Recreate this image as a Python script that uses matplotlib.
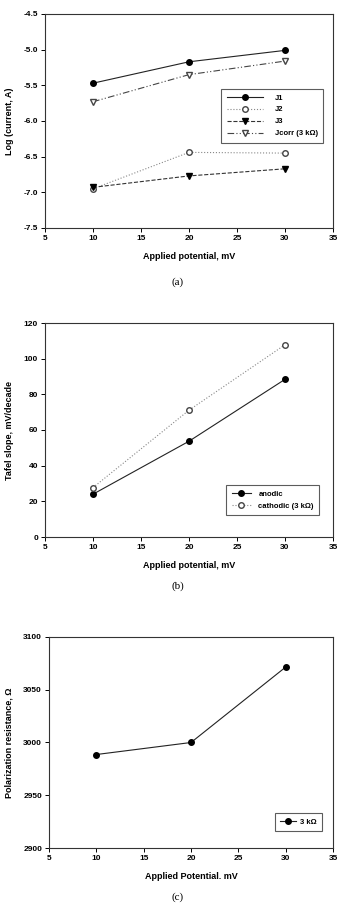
# Tres paneles: corriente, pendiente de Tafel y resistencia de polarizacion
import matplotlib
matplotlib.use("Agg")
import matplotlib.pyplot as plt
from matplotlib.ticker import FormatStrFormatter

plt.rcParams['font.family'] = ['Liberation Sans', 'DejaVu Sans']
plt.rcParams['font.weight'] = 'bold'

# Datos
potencial = [10, 20, 30]

j1 = [-5.47, -5.17, -5.01]
j2 = [-6.95, -6.44, -6.45]
j3 = [-6.93, -6.77, -6.67]
jcorr = [-5.73, -5.35, -5.16]

anodico = [24, 53.7, 88.4]
catodico = [27.7, 71.1, 107.8]

resistencia = [2988.6, 3000, 3071.5]

W, H = 340, 913
fig = plt.figure(figsize=(W / 100, H / 100), dpi=100)

def ejes(izq, der, arriba, abajo):
    return fig.add_axes([izq / W, 1 - abajo / H, (der - izq) / W, (abajo - arriba) / H])

def estilo(ax):
    for s in ax.spines.values():
        s.set_linewidth(0.8)
        s.set_color('#333333')
    ax.tick_params(direction='out', length=3, width=0.7, labelsize=6,
                   top=False, right=False, pad=2)
    ax.set_xlim(5, 35)
    ax.set_xticks(range(5, 36, 5))
    for t in ax.get_xticklabels() + ax.get_yticklabels():
        t.set_fontweight('bold')

def leyenda(ax, **kw):
    leg = ax.legend(fontsize=5.5, frameon=True, fancybox=False, numpoints=1,
                    borderpad=0.7, **kw)
    leg.get_frame().set_edgecolor('#333333')
    leg.get_frame().set_linewidth(0.8)
    for t in leg.get_texts():
        t.set_fontweight('bold')
    return leg

lw = 0.8
ms = 4

# (a)
ax = ejes(45, 333, 14, 228)
ax.plot(potencial, j1, '-', color='#222222', lw=lw, marker='o', ms=ms,
        mfc='black', mec='black', label='J1')
ax.plot(potencial, j2, ':', color='#888888', lw=lw, marker='o', ms=ms,
        mfc='white', mec='#444444', label='J2')
ax.plot(potencial, j3, '--', color='#333333', lw=lw, marker='v', ms=ms,
        mfc='black', mec='black', label='J3')
ax.plot(potencial, jcorr, color='#444444', lw=lw, dashes=[6, 2, 1, 2, 1, 2],
        marker='v', ms=ms, mfc='white', mec='#444444', label='Jcorr (3 kΩ)')
ax.set_ylim(-7.5, -4.5)
ax.set_yticks([-7.5, -7.0, -6.5, -6.0, -5.5, -5.0, -4.5])
ax.yaxis.set_major_formatter(FormatStrFormatter('%.1f'))
estilo(ax)
ax.set_xlabel('Applied potential, mV', fontsize=6.5, fontweight='bold', labelpad=7)
ax.set_ylabel('Log (current, A)', fontsize=6.5, fontweight='bold', labelpad=7)
leyenda(ax, loc='upper right', bbox_to_anchor=(0.979, 0.668), handlelength=4.8,
        handletextpad=1.5, labelspacing=0.6)
fig.text(178 / W, 1 - 282 / H, '(a)', ha='center', va='center', fontsize=8,
         family='Liberation Serif', fontweight='normal')

# (b)
ax = ejes(45, 333, 323, 537)
ax.plot(potencial, anodico, '-', color='#222222', lw=lw, marker='o', ms=ms,
        mfc='black', mec='black', label='anodic')
ax.plot(potencial, catodico, ':', color='#888888', lw=lw, marker='o', ms=ms,
        mfc='white', mec='#444444', label='cathodic (3 kΩ)')
ax.set_ylim(0, 120)
ax.set_yticks(range(0, 121, 20))
estilo(ax)
ax.set_xlabel('Applied potential, mV', fontsize=6.5, fontweight='bold', labelpad=7)
ax.set_ylabel('Tafel slope, mV/decade', fontsize=6.5, fontweight='bold', labelpad=7)
leyenda(ax, loc='lower right', bbox_to_anchor=(0.965, 0.084), handlelength=2.6,
        handletextpad=0.9, labelspacing=0.6)
fig.text(178 / W, 1 - 586 / H, '(b)', ha='center', va='center', fontsize=8,
         family='Liberation Serif', fontweight='normal')

# (c)
ax = ejes(49, 333, 637, 848)
ax.plot(potencial, resistencia, '-', color='#222222', lw=lw, marker='o', ms=ms,
        mfc='black', mec='black', label='3 kΩ')
ax.set_ylim(2900, 3100)
ax.set_yticks(range(2900, 3101, 50))
estilo(ax)
ax.set_xlabel('Applied Potential. mV', fontsize=6.5, fontweight='bold', labelpad=7)
ax.set_ylabel('Polarization resistance, Ω', fontsize=6.5, fontweight='bold', labelpad=7)
leyenda(ax, loc='lower right', bbox_to_anchor=(0.975, 0.062), handlelength=2.0,
        handletextpad=0.6)
fig.text(178 / W, 1 - 897 / H, '(c)', ha='center', va='center', fontsize=8,
         family='Liberation Serif', fontweight='normal')

plt.savefig('out.png', dpi=100)
plt.close()
